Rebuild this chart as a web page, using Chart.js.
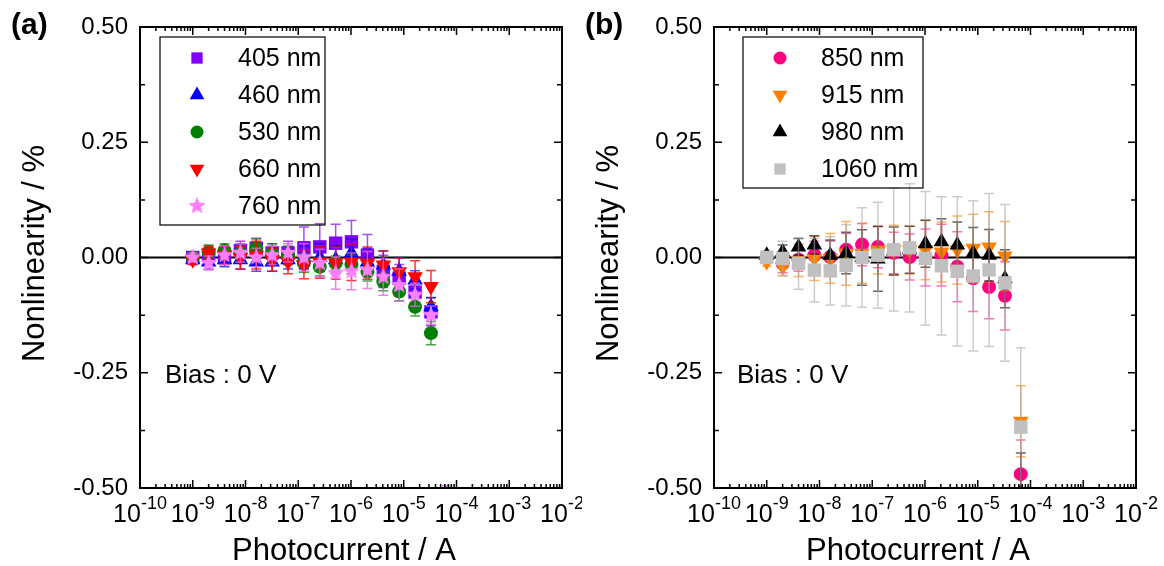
<!DOCTYPE html>
<html>
<head>
<meta charset="utf-8">
<script src="https://cdn.jsdelivr.net/npm/chart.js@4.4.0/dist/chart.umd.min.js"></script>
<style>
body { margin: 0; background: #fff; width: 1164px; height: 566px; position: relative; overflow: hidden; }
.panel { position: absolute; top: 0; width: 582px; height: 566px; }
</style>
</head>
<body>
<div class="panel" style="left:0"><canvas id="chartA"></canvas></div>
<div class="panel" style="left:582px"><canvas id="chartB"></canvas></div>
<script>
// photocurrent steps (A), shared by both panels
const currents = [1e-9, 2e-9, 4e-9, 8e-9, 1.6e-8, 3.2e-8, 6.4e-8, 1.28e-7, 2.56e-7, 5.12e-7, 1.02e-6, 2.05e-6, 4.1e-6, 8.19e-6, 1.64e-5, 3.28e-5, 6.55e-5];

const xDecades = [-10, -9, -8, -7, -6, -5, -4, -3, -2];
const yMajor = [0.5, 0.25, 0, -0.25, -0.5];
const yMinor = [0.375, 0.125, -0.125, -0.375];

// panel (a)
const labelsA = ['405 nm', '460 nm', '530 nm', '660 nm', '760 nm'];
const nl405 = [0.0, 0.005, 0.0, 0.015, 0.02, 0.01, 0.01, 0.021, 0.023, 0.031, 0.034, 0.005, -0.03, -0.045, -0.075, -0.118];
const err405 = [0.01, 0.012, 0.015, 0.02, 0.022, 0.02, 0.025, 0.045, 0.05, 0.041, 0.046, 0.045, 0.035, 0.03, 0.035, 0.03];
const nl460 = [-0.005, -0.01, -0.005, -0.005, -0.01, -0.01, -0.005, 0.0, 0.0, -0.005, 0.01, -0.01, -0.016, -0.03, -0.049, -0.107];
const err460 = [0.01, 0.015, 0.015, 0.02, 0.02, 0.02, 0.02, 0.025, 0.03, 0.03, 0.03, 0.03, 0.03, 0.03, 0.02, 0.02];
const nl530 = [0.0, 0.012, 0.015, 0.01, 0.02, 0.01, 0.005, -0.012, -0.02, -0.012, -0.015, -0.031, -0.052, -0.074, -0.107, -0.164];
const err530 = [0.01, 0.015, 0.015, 0.02, 0.02, 0.02, 0.02, 0.02, 0.02, 0.015, 0.02, 0.02, 0.02, 0.02, 0.02, 0.025];
const nl660 = [-0.005, 0.01, 0.005, 0.0, 0.005, -0.005, -0.01, -0.016, -0.01, -0.012, -0.01, -0.012, -0.016, -0.031, -0.042, -0.063];
const err660 = [0.01, 0.015, 0.02, 0.025, 0.03, 0.025, 0.025, 0.03, 0.035, 0.035, 0.04, 0.035, 0.03, 0.03, 0.035, 0.035];
const nl760 = [0.0, -0.012, 0.005, 0.01, 0.0, 0.005, 0.01, 0.0, -0.012, -0.034, -0.03, -0.027, -0.042, -0.06, -0.081, -0.125, -0.56];
const err760 = [0.01, 0.015, 0.02, 0.02, 0.02, 0.02, 0.02, 0.03, 0.03, 0.035, 0.04, 0.04, 0.04, 0.035, 0.025, 0.02, 0.065];

// panel (b)
const labelsB = ['850 nm', '915 nm', '980 nm', '1060 nm'];
const nl850 = [0.0, -0.013, -0.005, 0.005, 0.001, 0.017, 0.028, 0.023, 0.01, 0.001, 0.0, 0.005, -0.02, -0.045, -0.064, -0.083, -0.47];
const err850 = [0.01, 0.02, 0.025, 0.03, 0.035, 0.035, 0.046, 0.045, 0.045, 0.05, 0.062, 0.067, 0.076, 0.072, 0.069, 0.074, 0.074];
const nl915 = [-0.009, -0.02, -0.006, -0.002, -0.002, 0.009, 0.009, 0.016, 0.016, 0.016, 0.016, 0.012, 0.016, 0.02, 0.023, 0.003, -0.355];
const err915 = [0.01, 0.02, 0.035, 0.048, 0.054, 0.069, 0.065, 0.052, 0.054, 0.052, 0.064, 0.065, 0.074, 0.074, 0.076, 0.075, 0.077];
const nl980 = [0.005, 0.012, 0.023, 0.027, 0.005, 0.01, 0.0, -0.003, 0.014, 0.017, 0.03, 0.034, 0.027, 0.009, 0.005, -0.046, -0.51];
const err980 = [0.008, 0.015, 0.018, 0.02, 0.033, 0.045, 0.06, 0.07, 0.052, 0.051, 0.051, 0.05, 0.05, 0.056, 0.056, 0.063, 0.086];
const nl1060 = [0.0, -0.002, -0.013, -0.0275, -0.029, -0.017, 0.0, 0.005, 0.017, 0.021, -0.002, -0.018, -0.03, -0.04, -0.027, -0.055, -0.368];
const err1060 = [0.01, 0.037, 0.056, 0.069, 0.074, 0.088, 0.108, 0.115, 0.133, 0.139, 0.145, 0.15, 0.162, 0.163, 0.166, 0.17, 0.172];

const fontFamily = "'Liberation Sans', Arial, sans-serif";
Chart.defaults.font.family = fontFamily;
Chart.defaults.color = '#000';

function makeStar(color, r) {
    const c = document.createElement('canvas');
    c.width = c.height = 2 * r;
    const g = c.getContext('2d');
    g.fillStyle = color;
    g.beginPath();
    for (let i = 0; i < 10; i++) {
        const rad = i % 2 ? r * 0.45 : r;
        const ang = -Math.PI / 2 + i * Math.PI / 5;
        g.lineTo(r + rad * Math.cos(ang), r + rad * Math.sin(ang));
    }
    g.closePath();
    g.fill();
    return c;
}

function makeDataset(label, values, errors, color, errColor, style, radius, rotation) {
    return {
        label: label,
        data: values.map((v, i) => ({ x: currents[i], y: v })),
        errors: errors,
        errorColor: errColor,
        showLine: false,
        pointStyle: style,
        pointRadius: radius,
        pointRotation: rotation || 0,
        pointBackgroundColor: color,
        pointBorderColor: color,
        pointBorderWidth: 0,
        clip: 0
    };
}

const errorBarPlugin = {
    id: 'errorBars',
    beforeDatasetDraw(chart, args) {
        const ds = chart.data.datasets[args.index];
        if (!ds.errors) return;
        const ctx = chart.ctx;
        const area = chart.chartArea;
        const yScale = chart.scales.y;
        ctx.save();
        ctx.beginPath();
        ctx.rect(area.left, area.top, area.right - area.left, area.bottom - area.top);
        ctx.clip();
        ctx.strokeStyle = ds.errorColor;
        ctx.lineWidth = 1.5;
        args.meta.data.forEach((pt, i) => {
            const v = ds.data[i].y;
            const e = ds.errors[i];
            const top = yScale.getPixelForValue(v + e);
            const bottom = yScale.getPixelForValue(v - e);
            ctx.beginPath();
            ctx.moveTo(pt.x, top);
            ctx.lineTo(pt.x, bottom);
            ctx.moveTo(pt.x - 5, top);
            ctx.lineTo(pt.x + 5, top);
            ctx.moveTo(pt.x - 5, bottom);
            ctx.lineTo(pt.x + 5, bottom);
            ctx.stroke();
        });
        ctx.restore();
    }
};

const decorPlugin = {
    id: 'decor',
    beforeDatasetsDraw(chart) {
        const { ctx, chartArea: a, scales: { y } } = chart;
        const y0 = y.getPixelForValue(0);
        ctx.save();
        ctx.strokeStyle = '#000';
        ctx.lineWidth = 2;
        ctx.beginPath();
        ctx.moveTo(a.left, y0);
        ctx.lineTo(a.right, y0);
        ctx.stroke();
        ctx.restore();
    },
    afterDraw(chart, args, opts) {
        const { ctx, chartArea: a, scales: { x, y } } = chart;
        ctx.save();
        ctx.strokeStyle = '#000';
        ctx.fillStyle = '#000';

        // inward ticks on all four sides
        ctx.lineWidth = 1.5;
        ctx.beginPath();
        xDecades.forEach((p, idx) => {
            const px = x.getPixelForValue(Math.pow(10, p));
            ctx.moveTo(px, a.bottom); ctx.lineTo(px, a.bottom - 8);
            ctx.moveTo(px, a.top); ctx.lineTo(px, a.top + 8);
            if (idx < xDecades.length - 1) {
                for (let m = 2; m <= 9; m++) {
                    const pm = x.getPixelForValue(m * Math.pow(10, p));
                    ctx.moveTo(pm, a.bottom); ctx.lineTo(pm, a.bottom - 4);
                    ctx.moveTo(pm, a.top); ctx.lineTo(pm, a.top + 4);
                }
            }
        });
        yMajor.forEach(v => {
            const py = y.getPixelForValue(v);
            ctx.moveTo(a.left, py); ctx.lineTo(a.left + 8, py);
            ctx.moveTo(a.right, py); ctx.lineTo(a.right - 8, py);
        });
        yMinor.forEach(v => {
            const py = y.getPixelForValue(v);
            ctx.moveTo(a.left, py); ctx.lineTo(a.left + 5, py);
            ctx.moveTo(a.right, py); ctx.lineTo(a.right - 5, py);
        });
        ctx.stroke();

        ctx.lineWidth = 2;
        ctx.strokeRect(a.left, a.top, a.right - a.left, a.bottom - a.top);

        // x tick labels with superscript exponents
        ctx.textBaseline = 'alphabetic';
        ctx.textAlign = 'left';
        xDecades.forEach(p => {
            const px = x.getPixelForValue(Math.pow(10, p));
            ctx.font = `25px ${fontFamily}`;
            const wBase = ctx.measureText('10').width;
            ctx.font = `18px ${fontFamily}`;
            const wExp = ctx.measureText(String(p)).width;
            const start = px - (wBase + wExp) / 2;
            ctx.font = `25px ${fontFamily}`;
            ctx.fillText('10', start, 522);
            ctx.font = `18px ${fontFamily}`;
            ctx.fillText(String(p), start + wBase, 509);
        });

        // axis titles
        ctx.font = `31px ${fontFamily}`;
        ctx.textAlign = 'center';
        ctx.fillText('Photocurrent / A', (a.left + a.right) / 2 - 7, 560);
        ctx.save();
        ctx.translate(a.left - 96, (a.top + a.bottom) / 2 - 4);
        ctx.rotate(-Math.PI / 2);
        ctx.fillText('Nonlinearity / %', 0, 0);
        ctx.restore();

        // panel letter
        ctx.font = `bold 30px ${fontFamily}`;
        ctx.textAlign = 'left';
        ctx.fillText(opts.panel, a.left - 129, 34);

        // bias note
        ctx.font = `26px ${fontFamily}`;
        ctx.fillText('Bias : 0 V', a.left + opts.biasOffset, 383);

        // legend box
        const datasets = chart.data.datasets;
        const boxLeft = a.left + opts.legendOffset;
        const boxTop = 37;
        const rowH = 37;
        ctx.lineWidth = 1.2;
        ctx.strokeRect(boxLeft, boxTop, opts.legendWidth, datasets.length * rowH + 3);
        ctx.font = `25px ${fontFamily}`;
        ctx.textBaseline = 'middle';
        datasets.forEach((ds, i) => {
            const cy = boxTop + 21 + i * rowH;
            ctx.fillStyle = ds.pointBackgroundColor;
            Chart.helpers.drawPoint(ctx, {
                pointStyle: ds.pointStyle,
                rotation: ds.pointRotation,
                radius: ds.pointStyle === 'rect' ? 8 : ds.pointRadius - 0.5,
                borderWidth: 0
            }, boxLeft + 37, cy);
            ctx.fillStyle = '#000';
            ctx.fillText(ds.label, boxLeft + 78, cy + 1);
        });
        ctx.restore();
    }
};

function makeOptions(yWidth, rightPad, decor) {
    return {
        responsive: true,
        maintainAspectRatio: false,
        animation: false,
        layout: { padding: { top: 27, right: rightPad, bottom: 0, left: 0 } },
        plugins: {
            legend: { display: false },
            tooltip: { enabled: false },
            decor: decor
        },
        scales: {
            x: {
                type: 'logarithmic',
                min: 1e-10,
                max: 1e-2,
                grid: { display: false, drawTicks: false },
                border: { display: false },
                ticks: { display: false },
                afterFit(scale) { scale.height = 78; }
            },
            y: {
                min: -0.5,
                max: 0.5,
                grid: { display: false, drawTicks: false },
                border: { display: false },
                ticks: {
                    stepSize: 0.25,
                    padding: 12,
                    font: { size: 24 },
                    callback: v => v.toFixed(2)
                },
                afterFit(scale) { scale.width = yWidth; }
            }
        }
    };
}

const star760 = makeStar('#FF80FF', 9);

const datasetsA = [
    makeDataset(labelsA[0], nl405, err405, '#7F00FF', 'rgba(127,0,255,0.7)', 'rect', 9.5),
    makeDataset(labelsA[1], nl460, err460, '#0000FF', 'rgba(0,0,255,0.7)', 'triangle', 9),
    makeDataset(labelsA[2], nl530, err530, '#008000', 'rgba(0,128,0,0.7)', 'circle', 7),
    makeDataset(labelsA[3], nl660, err660, '#FF0000', 'rgba(255,0,0,0.8)', 'triangle', 9, 180),
    makeDataset(labelsA[4], nl760, err760, '#FF80FF', 'rgba(230,100,230,0.8)', star760, 9)
];
datasetsA.forEach((ds, i) => { ds.order = datasetsA.length - i; });

const datasetsB = [
    makeDataset(labelsB[0], nl850, err850, '#FF0080', 'rgba(255,0,128,0.55)', 'circle', 7),
    makeDataset(labelsB[1], nl915, err915, '#FF8000', 'rgba(255,128,0,0.6)', 'triangle', 9, 180),
    makeDataset(labelsB[2], nl980, err980, '#000000', 'rgba(0,0,0,0.6)', 'triangle', 9),
    makeDataset(labelsB[3], nl1060, err1060, '#C0C0C0', 'rgba(170,170,170,0.6)', 'rect', 9.5)
];
datasetsB.forEach((ds, i) => { ds.order = datasetsB.length - i; });

new Chart(document.getElementById('chartA'), {
    type: 'scatter',
    data: { datasets: datasetsA },
    options: makeOptions(140, 20, { panel: '(a)', biasOffset: 25, legendOffset: 20, legendWidth: 165 }),
    plugins: [errorBarPlugin, decorPlugin]
});

new Chart(document.getElementById('chartB'), {
    type: 'scatter',
    data: { datasets: datasetsB },
    options: makeOptions(132, 28, { panel: '(b)', biasOffset: 23, legendOffset: 29, legendWidth: 180 }),
    plugins: [errorBarPlugin, decorPlugin]
});
</script>
</body>
</html>
